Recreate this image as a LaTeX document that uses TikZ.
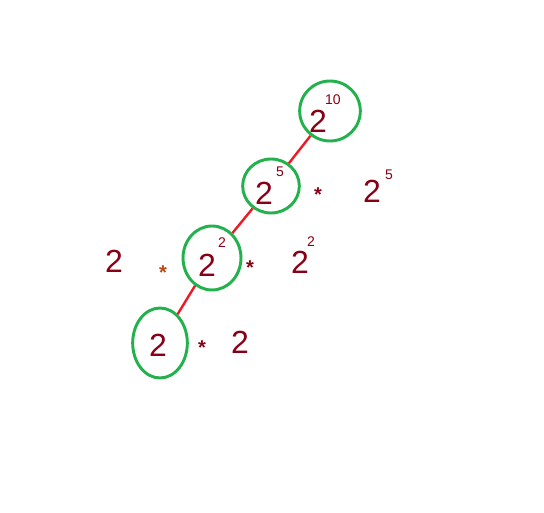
\documentclass[tikz,border=0pt]{standalone}
\usepackage{fontspec}
\setmainfont{Liberation Sans}
\usetikzlibrary{shapes.geometric}
\definecolor{ringgreen}{RGB}{34,177,76}
\definecolor{linkred}{RGB}{237,28,36}
\definecolor{numred}{RGB}{136,0,21}
\definecolor{staror}{RGB}{185,70,20}
\tikzset{
  ring/.style={draw=ringgreen,line width=2.2pt,ellipse,inner sep=0pt},
  base/.style={numred,inner sep=0pt,font=\fontsize{24}{24}\selectfont},
  power/.style={numred,inner sep=0pt,font=\fontsize{10.5}{10.5}\selectfont},
  times/.style={numred,inner sep=0pt,font=\bfseries\fontsize{15}{15}\selectfont},
  link/.style={linkred,line width=1.8pt}
}
\begin{document}
\begin{tikzpicture}[x=0.75pt,y=-0.75pt]
    \useasboundingbox (0,0) rectangle (544,513);

    \node[ring,minimum width=45.5pt,minimum height=45pt](r1)at(330,111){};
    \node[ring,minimum width=42.5pt,minimum height=40.5pt](r2)at(271,186){};
    \node[ring,minimum width=43.5pt,minimum height=48pt](r3)at(212,258){};
    \node[ring,minimum width=41pt,minimum height=52.5pt](r4)at(160,343){};
    \draw[link](r1)--(r2);
    \draw[link](r2)--(r3);
    \draw[link](r3)--(r4);

    \node[base](b1)at(318,121){2};
    \node[power](p1)at(333,100){10};
    \node[base](b2)at(264,193){2};
    \node[power](p2)at(280,172){5};
    \node[times](t2)at(318,195){*};
    \node[base](c2)at(372,191){2};
    \node[power](q2)at(389,175){5};

    \node[base](a3)at(114,261){2};
    \node[times,staror](s3)at(163,273){*};
    \node[base](b3)at(207,265){2};
    \node[power](p3)at(222,243){2};
    \node[times](t3)at(250,268){*};
    \node[base](c3)at(300,262){2};
    \node[power](q3)at(311,242){2};

    \node[base](b4)at(158,345){2};
    \node[times](t4)at(202,348){*};
    \node[base](c4)at(240,342){2};

\end{tikzpicture}
\end{document}
